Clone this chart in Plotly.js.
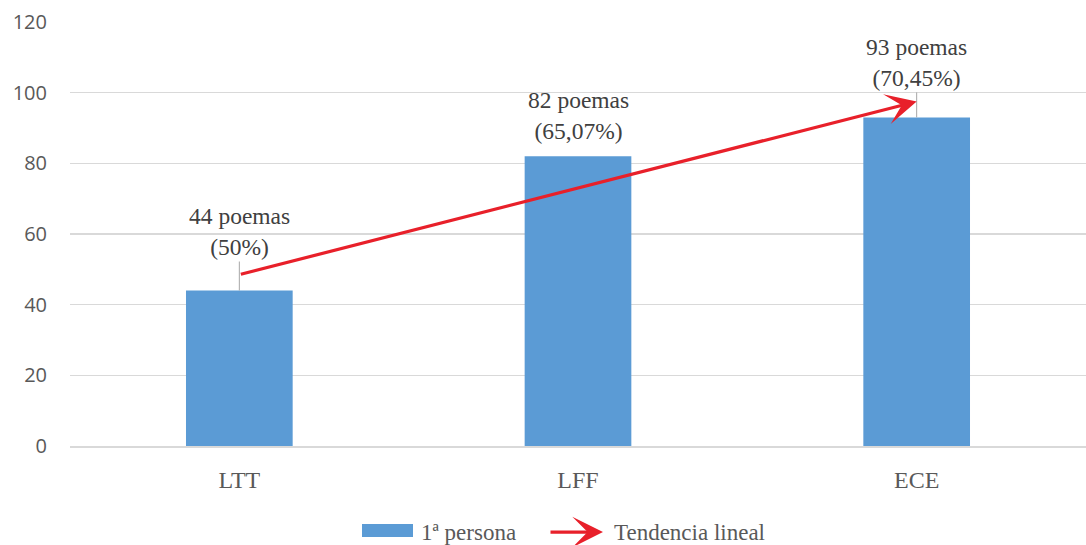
<!DOCTYPE html>
<html>
<head>
<meta charset="utf-8">
<script src="https://cdn.plot.ly/plotly-3.0.1.min.js"></script>
<style>
  html, body { margin: 0; padding: 0; background: #fff; }
  #chart { width: 1086px; height: 545px; }
</style>
</head>
<body>
<div id="chart"></div>
<script>
// Poems written in first person, per collection
const categories = ['LTT', 'LFF', 'ECE'];
const poemCounts = [44, 82, 93];
const percentLabels = ['50%', '65,07%', '70,45%'];
const seriesName = '1ª persona';
const trendName = 'Tendencia lineal';

const BAR_COLOR = '#5B9BD5';
const TREND_COLOR = '#E8202A';
const SERIF = 'Liberation Serif';

// Least-squares linear trend over the category index
function linearTrend(vals) {
  const n = vals.length;
  const xs = vals.map((_, i) => i);
  const mx = xs.reduce((a, b) => a + b, 0) / n;
  const my = vals.reduce((a, b) => a + b, 0) / n;
  let num = 0, den = 0;
  xs.forEach((x, i) => { num += (x - mx) * (vals[i] - my); den += (x - mx) * (x - mx); });
  const slope = num / den;
  return x => my + slope * (x - mx);
}
const trend = linearTrend(poemCounts);
const lastIdx = poemCounts.length - 1;

const bars = {
  type: 'bar',
  x: categories,
  y: poemCounts,
  name: seriesName,
  marker: { color: BAR_COLOR },
  width: 0.315,
  hoverinfo: 'x+y',
  showlegend: false
};

// Value labels with leader lines down to each bar
const labelOffsets = [-59, -41, -55];
const leaderColors = ['#A6A6A6', 'rgba(0,0,0,0)', '#A6A6A6'];
const valueLabels = poemCounts.map((v, i) => ({
  xref: 'x', yref: 'y',
  x: i, y: v,
  text: v + ' poemas<br>(' + percentLabels[i] + ')',
  showarrow: true,
  arrowhead: 0,
  arrowwidth: 1,
  arrowcolor: leaderColors[i],
  ax: 0, ay: labelOffsets[i],
  standoff: 0,
  font: { family: SERIF, size: 23.5, color: '#404040' }
}));

// Trend line drawn as an arrow from the first to the last category
const trendArrow = {
  xref: 'x', yref: 'y', axref: 'x', ayref: 'y',
  x: lastIdx, y: trend(lastIdx),
  ax: 0, ay: trend(0),
  text: '',
  showarrow: true,
  arrowhead: 3,
  arrowsize: 1.6,
  arrowwidth: 3.2,
  arrowcolor: TREND_COLOR,
  standoff: 0
};

// Legend row below the axis
const legendY = -0.203;
const legendItems = [
  {
    xref: 'paper', yref: 'paper', x: 0.3435, y: legendY,
    xanchor: 'left', yanchor: 'middle', showarrow: false,
    text: seriesName,
    font: { family: SERIF, size: 23, color: '#595959' }
  },
  {
    xref: 'paper', yref: 'paper', x: 0.5246, y: legendY,
    ax: -54, ay: 0, text: '', showarrow: true,
    arrowhead: 3, arrowsize: 1.6, arrowwidth: 3.2,
    arrowcolor: TREND_COLOR, standoff: 0
  },
  {
    xref: 'paper', yref: 'paper', x: 0.5335, y: legendY,
    xanchor: 'left', yanchor: 'middle', showarrow: false,
    text: trendName,
    font: { family: SERIF, size: 23, color: '#595959' }
  }
];

const layout = {
  width: 1086,
  height: 545,
  margin: { l: 70, r: 0, t: 22, b: 99 },
  paper_bgcolor: '#fff',
  plot_bgcolor: '#fff',
  showlegend: false,
  xaxis: {
    type: 'category',
    showgrid: false,
    showline: true,
    linecolor: '#D9D9D9',
    linewidth: 1.5,
    ticks: '',
    ticklabelstandoff: 12,
    tickfont: { family: SERIF, size: 24, color: '#595959' },
    fixedrange: true
  },
  yaxis: {
    range: [0, 120],
    dtick: 20,
    showgrid: true,
    gridcolor: '#D9D9D9',
    gridwidth: 1.5,
    zeroline: false,
    showline: false,
    ticks: '',
    ticklabelstandoff: 22,
    tickfont: { family: 'Open Sans', size: 20, color: '#595959' },
    fixedrange: true
  },
  shapes: [{
    type: 'rect', xref: 'paper', yref: 'paper',
    x0: 0.2874, x1: 0.3376, y0: -0.2146, y1: -0.184,
    fillcolor: BAR_COLOR, line: { width: 0 }
  }],
  annotations: valueLabels.concat([trendArrow], legendItems)
};

Plotly.newPlot('chart', [bars], layout, { displayModeBar: false, staticPlot: true });
</script>
</body>
</html>
